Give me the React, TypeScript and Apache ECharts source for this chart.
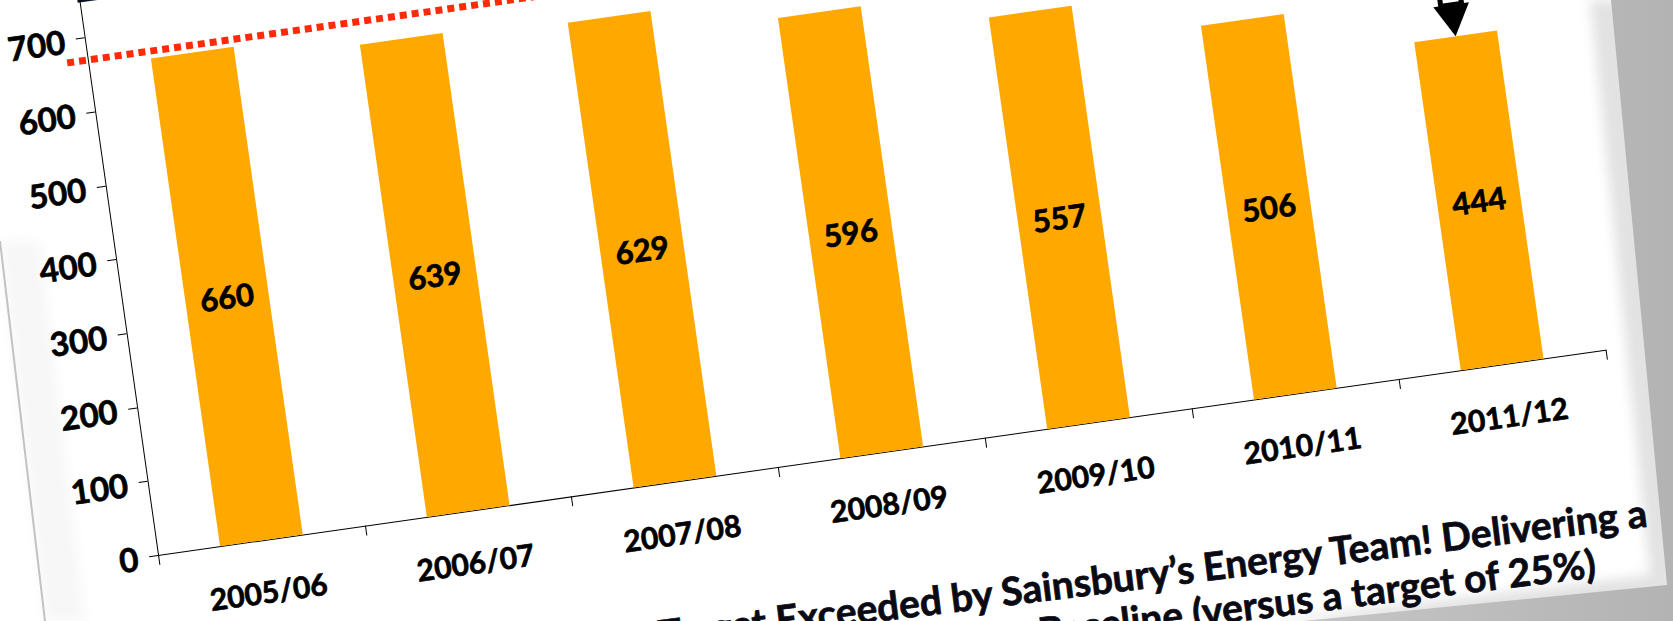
import React, { useEffect, useRef } from "react";
import * as echarts from "echarts";

// ---- data ----
const categories = ["2005/06", "2006/07", "2007/08", "2008/09", "2009/10", "2010/11", "2011/12"];
const values = [660, 639, 629, 596, 557, 506, 444];
const yMin = 0;
const yMax = 800;
const yInterval = 100;
const targetLevel = 670;
const targetFrom = -0.6;
const targetTo = 7.4;
const arrowIndex = 6;
const arrowTop = 800;
const titleLine1 = "Target Exceeded by Sainsbury’s Energy Team! Delivering a";
const titleLine2 = "Baseline (versus a target of 25%)";

// ---- layout (card frame, before the tilt) ----
const W = 2000;
const H = 950;
const OX = 300; // grid origin inside the div
const OY = 660;
const GW = 1462;
const GH = 597;
const TILT = -8.07;
const FONT = "Lato, 'Open Sans', sans-serif";

export default function App() {
  const ref = useRef<HTMLDivElement>(null);

  useEffect(() => {
    if (!ref.current) return;
    const chart = echarts.init(ref.current, undefined, { renderer: "svg" });
    const n = categories.length;
    const band = GW / n;
    const headH = 32;
    const unitPx = GH / (yMax - yMin);
    const shaftStart = values[arrowIndex] + headH / unitPx;
    const labelFont = {
      color: "#000",
      fontFamily: FONT,
      fontWeight: "bold" as const,
      textBorderColor: "#000",
      textBorderWidth: 0.7,
    };
    chart.setOption({
      animation: false,
      grid: [
        { left: OX, top: OY - GH, width: GW, height: GH, containLabel: false },
        // overlay grid, one band wider on each side, for the reference line and the arrow
        { left: OX - band, top: OY - GH, width: GW + 2 * band, height: GH, containLabel: false },
      ],
      xAxis: [
        {
          type: "category",
          gridIndex: 0,
          data: categories,
          boundaryGap: true,
          axisLine: { show: true, lineStyle: { color: "#000", width: 1 } },
          axisTick: { show: true, length: 10, alignWithLabel: false, lineStyle: { color: "#000", width: 1 } },
          axisLabel: { margin: 36, fontSize: 30, ...labelFont },
          splitLine: { show: false },
        },
        { type: "value", gridIndex: 1, min: -1.5, max: n + 0.5, show: false },
      ],
      yAxis: [
        {
          type: "value",
          gridIndex: 0,
          min: yMin,
          max: yMax,
          interval: yInterval,
          axisLine: { show: true, lineStyle: { color: "#000", width: 1 } },
          axisTick: { show: true, length: 9, lineStyle: { color: "#000", width: 1 } },
          axisLabel: { margin: 20, fontSize: 33, showMaxLabel: false, ...labelFont },
          splitLine: { show: false },
        },
        { type: "value", gridIndex: 1, min: yMin, max: yMax, interval: yInterval, show: false },
      ],
      series: [
        {
          type: "bar",
          data: values,
          barWidth: "40%",
          itemStyle: { color: "#FFA800" },
          label: { show: true, position: "inside", fontSize: 31, ...labelFont },
        },
        {
          type: "line",
          xAxisIndex: 1,
          yAxisIndex: 1,
          data: [[targetFrom, targetLevel], [targetTo, targetLevel]],
          symbol: "none",
          clip: false,
          lineStyle: { color: "#FF2A0A", width: 7, type: [7, 5] },
          z: 5,
        },
        {
          type: "line",
          xAxisIndex: 1,
          yAxisIndex: 1,
          data: [[arrowIndex, shaftStart - 1], [arrowIndex, arrowTop]],
          symbol: "none",
          clip: false,
          lineStyle: { color: "#000", width: 26, type: "solid" },
          z: 6,
        },
        {
          type: "line",
          xAxisIndex: 1,
          yAxisIndex: 1,
          data: [[arrowIndex, shaftStart + 3], [arrowIndex, arrowTop]],
          symbol: "none",
          clip: false,
          lineStyle: { color: "#fff", width: 16, type: [4, 10] },
          z: 7,
        },
        {
          type: "scatter",
          xAxisIndex: 1,
          yAxisIndex: 1,
          data: [[arrowIndex, values[arrowIndex]]],
          symbol: "triangle",
          symbolRotate: 180,
          symbolSize: [36, headH],
          symbolOffset: [0, -headH / 2],
          itemStyle: { color: "#000", opacity: 1 },
          clip: false,
          z: 8,
        },
      ],
      graphic: [
        { type: "rect", shape: { x: OX - 2, y: OY - 580, width: 34, height: 22 }, style: { fill: "#0b1326" } },
        { type: "rect", shape: { x: OX + 48, y: OY - 578, width: 20, height: 18 }, style: { fill: "#0b1326" } },
        {
          type: "text",
          x: OX + 1480,
          y: OY + 166,
          rotation: -0.018,
          style: {
            text: titleLine1,
            x: 0,
            y: 0,
            font: `bold 39px ${FONT}`,
            fill: "#0a0a14",
            stroke: "#0a0a14",
            lineWidth: 0.7,
            align: "right",
            verticalAlign: "middle",
            textAlign: "right",
            textVerticalAlign: "middle",
          },
        },
        {
          type: "text",
          x: OX + 1422,
          y: OY + 209,
          rotation: -0.018,
          style: {
            text: titleLine2,
            x: 0,
            y: 0,
            font: `bold 39px ${FONT}`,
            fill: "#0a0a14",
            stroke: "#0a0a14",
            lineWidth: 0.7,
            align: "right",
            verticalAlign: "middle",
            textAlign: "right",
            textVerticalAlign: "middle",
          },
        },
      ],
    });
    return () => chart.dispose();
  }, []);

  return (
    <div>
      <svg
        width={1673}
        height={621}
        style={{ position: "fixed", left: 0, top: 0, zIndex: 0 }}
      >
        <defs>
          <filter id="blur" x="-20%" y="-20%" width="140%" height="140%">
            <feGaussianBlur stdDeviation="6" />
          </filter>
          <linearGradient id="gray" x1="0" y1="0" x2="1" y2="0">
            <stop offset="0" stopColor="#c6c6c6" />
            <stop offset="1" stopColor="#b3b3b3" />
          </linearGradient>
        </defs>
        <rect x={0} y={0} width={1673} height={621} fill="#ffffff" />
        <polygon points="0,241 45,621 85,621 40,241" fill="#f7f7f7" filter="url(#blur)" />
        <line x1={0} y1={241} x2={45} y2={621} stroke="#c2c2c2" strokeWidth={2} />
        <polygon points="1590,0 1673,0 1673,621 1270,621 1650,575" fill="#e2e2e2" filter="url(#blur)" />
        <polygon points="1611,0 1673,0 1673,621 1303,621 1667,585" fill="url(#gray)" />
      </svg>
      <div
        ref={ref}
        style={{
          position: "fixed",
          left: 158 - OX,
          top: 555 - OY,
          width: W,
          height: H,
          zIndex: 1,
          transform: `rotate(${TILT}deg)`,
          transformOrigin: `${OX}px ${OY}px`,
        }}
      />
    </div>
  );
}
